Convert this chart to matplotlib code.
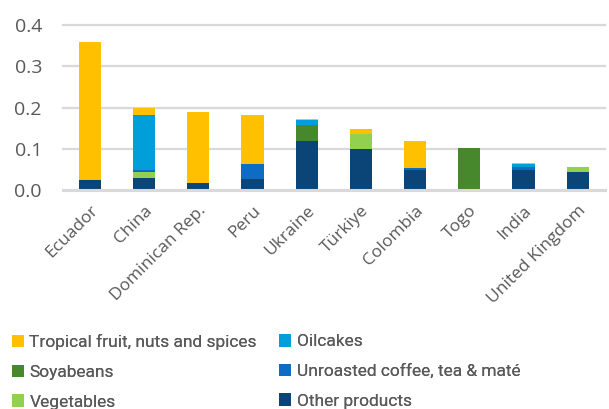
import numpy as np
import matplotlib.pyplot as plt

countries = ['Ecuador', 'China', 'Dominican Rep.', 'Peru', 'Ukraine', 'Türkiye',
             'Colombia', 'Togo', 'India', 'United Kingdom']

other = [0.024, 0.030, 0.017, 0.026, 0.118, 0.100, 0.050, 0.001, 0.050, 0.045]
vegetables = [0.001, 0.015, 0.0, 0.0, 0.002, 0.037, 0.0, 0.0, 0.0, 0.010]
coffee = [0.0, 0.004, 0.0, 0.038, 0.0, 0.0, 0.004, 0.0, 0.006, 0.0]
soyabeans = [0.0, 0.0, 0.0, 0.0, 0.039, 0.0, 0.0, 0.100, 0.0, 0.0]
oilcakes = [0.0, 0.134, 0.0, 0.0, 0.011, 0.0, 0.0, 0.0, 0.008, 0.0]
tropical = [0.334, 0.016, 0.173, 0.117, 0.003, 0.011, 0.065, 0.002, 0.003, 0.001]

# stacking order bottom -> top
series = [
    ('Other products', other, '#0B4477'),
    ('Vegetables', vegetables, '#92D050'),
    ('Unroasted coffee, tea & maté', coffee, '#0E6CC4'),
    ('Soyabeans', soyabeans, '#46882B'),
    ('Oilcakes', oilcakes, '#009FDA'),
    ('Tropical fruit, nuts and spices', tropical, '#FFC000'),
]

plt.rcParams['font.family'] = ['Open Sans', 'DejaVu Sans']
grey = '#595959'

fig = plt.figure(figsize=(6.09, 4.09), dpi=100)
ax = fig.add_axes([0.103, 0.535, 0.890, 0.404])

x = np.arange(len(countries))
bottom = np.zeros(len(countries))
handles = {}
for name, vals, col in series:
    vals = np.array(vals)
    b = ax.bar(x, vals, 0.41, bottom=bottom, color=col, edgecolor='none', zorder=3)
    handles[name] = b
    bottom += vals

ax.set_ylim(0, 0.4)
ax.set_xlim(-0.5, 9.5)
ax.set_yticks([0.0, 0.1, 0.2, 0.3, 0.4])
ax.set_yticklabels(['0.0', '0.1', '0.2', '0.3', '0.4'], fontsize=14)
for y in [0.1, 0.2, 0.3, 0.4]:
    ax.axhline(y, color='#D9D9D9', lw=1.6, zorder=1, clip_on=False)
ax.axhline(0, color='#D9D9D9', lw=2.2, zorder=4, clip_on=False)

ax.set_xticks(x)
ax.set_xticklabels(countries, rotation=45, ha='right', rotation_mode='anchor', fontsize=12.5)
ax.tick_params(axis='both', length=0, labelcolor=grey)
ax.tick_params(axis='y', pad=15)
ax.tick_params(axis='x', pad=9)
for s in ax.spines.values():
    s.set_visible(False)

# two legend columns, placed separately
cols = [(['Tropical fruit, nuts and spices', 'Soyabeans', 'Vegetables'], 0.019),
        (['Oilcakes', 'Unroasted coffee, tea & maté', 'Other products'], 0.458)]
for names, xpos in cols:
    leg = fig.legend([handles[n] for n in names], names, loc='upper left',
                     bbox_to_anchor=(xpos, 0.183), frameon=False,
                     prop={'family': 'Roboto', 'size': 12.5}, labelcolor=grey,
                     handlelength=0.72, handleheight=0.72, handletextpad=0.3,
                     labelspacing=0.83, borderpad=0, borderaxespad=0)
    fig.add_artist(leg)

fig.savefig('out.png', dpi=100)
